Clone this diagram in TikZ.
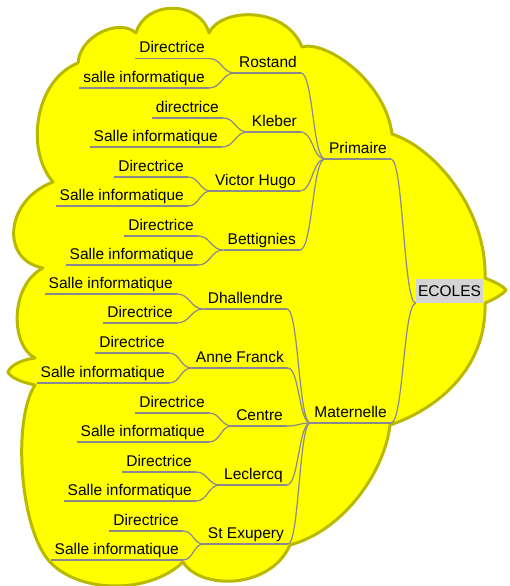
\documentclass[tikz,border=0pt]{standalone}
\usepackage{fontspec}
\setmainfont{Liberation Sans}
\usetikzlibrary{calc}
\definecolor{cloudfill}{RGB}{255,255,0}
\definecolor{cloudborder}{RGB}{185,185,0}
\definecolor{linkgray}{RGB}{136,136,142}
\definecolor{rootgray}{RGB}{212,212,212}
\tikzstyle{underline}=[draw=linkgray,line width=1.2pt]
\tikzstyle{topic}=[anchor=south east,inner xsep=4pt,inner ysep=2pt,text height=11pt,text depth=3.5pt,
                   font=\fontsize{15.5}{18}\selectfont,
                   append after command={(\tikzlastnode.south west) edge[underline] (\tikzlastnode.south east)}]
\tikzstyle{root}=[fill=rootgray,minimum width=67pt,minimum height=24pt,inner sep=0pt,
                  font=\fontsize{15.5}{18}\selectfont]
\tikzstyle{fork}=[draw=linkgray,line width=1.2pt,
                  to path={let \p1=(\tikztostart),\p2=(\tikztotarget) in
                           .. controls ({(\x1+\x2)/2},\y1) and ({(\x1+\x2)/2},\y2) .. (\tikztotarget)}]
\tikzstyle{cloudline}=[fill=cloudfill,draw=cloudborder,line width=3pt,line join=round]

\begin{document}
\begin{tikzpicture}[x=1pt,y=-1pt]
  \useasboundingbox (0,0) rectangle (509,586);
  % cloud
  \draw[cloudline] (78,63) .. controls (80,35) and (120,18) .. (136,33)
    .. controls (145,0) and (200,0) .. (209,33)
    .. controls (220,8) and (285,5) .. (302,47)
    .. controls (325,40) and (385,80) .. (392,134)
    .. controls (435,148) and (487,210) .. (485,278)
    .. controls (495,282) and (503,286) .. (506,290)
    .. controls (503,294) and (495,299) .. (485,303)
    .. controls (487,370) and (435,410) .. (390,425)
    .. controls (385,470) and (345,530) .. (290,545)
    .. controls (270,590) and (200,590) .. (183,562)
    .. controls (150,594) and (80,594) .. (50,562)
    .. controls (20,530) and (12,420) .. (35,385)
    .. controls (20,382) and (10,377) .. (8,372)
    .. controls (10,366) and (20,360) .. (35,358)
    .. controls (10,345) and (10,285) .. (43,268)
    .. controls (0,260) and (5,200) .. (53,182)
    .. controls (25,150) and (35,80) .. (78,63) -- cycle;

  \node[root] (E) at (449.5,291) {ECOLES};
  \node[topic] (P) at (391,159) {Primaire};
  \node[topic] (M) at (391,423) {Maternelle};

  % primaire
  \node[topic] (P1) at (301,73)  {Rostand};
  \node[topic] (P2) at (301,132) {Kleber};
  \node[topic] (P3) at (300,191) {Victor Hugo};
  \node[topic] (P4) at (300,250) {Bettignies};
  \node[topic] (P1a) at (209,58.5) {Directrice};
  \node[topic] (P1b) at (209,88)   {salle informatique};
  \node[topic] (P2a) at (223,118)  {directrice};
  \node[topic] (P2b) at (222,147)  {Salle informatique};
  \node[topic] (P3a) at (188,177)  {Directrice};
  \node[topic] (P3b) at (188,206)  {Salle informatique};
  \node[topic] (P4a) at (198,236)  {Directrice};
  \node[topic] (P4b) at (198,265)  {Salle informatique};

  % maternelle
  \node[topic] (M1) at (287,309) {Dhallendre};
  \node[topic] (M2) at (288,368) {Anne Franck};
  \node[topic] (M3) at (287,426) {Centre};
  \node[topic] (M4) at (287,485) {Leclercq};
  \node[topic] (M5) at (288,544) {St Exupery};
  \node[topic] (M1a) at (177,294) {Salle informatique};
  \node[topic] (M1b) at (177,323) {Directrice};
  \node[topic] (M2a) at (169,353) {Directrice};
  \node[topic] (M2b) at (169,383) {Salle informatique};
  \node[topic] (M3a) at (209,413) {Directrice};
  \node[topic] (M3b) at (209,442) {Salle informatique};
  \node[topic] (M4a) at (196,472) {Directrice};
  \node[topic] (M4b) at (196,501) {Salle informatique};
  \node[topic] (M5a) at (183,531) {Directrice};
  \node[topic] (M5b) at (183,560) {Salle informatique};

  \path (E.south west) edge[fork] (P.south east)
        (E.south west) edge[fork] (M.south east);
  \foreach \k in {1,...,4} {
    \path (P.south west) edge[fork] (P\k.south east)
          (P\k.south west) edge[fork] (P\k a.south east)
          (P\k.south west) edge[fork] (P\k b.south east);
  }
  \foreach \k in {1,...,5} {
    \path (M.south west) edge[fork] (M\k.south east)
          (M\k.south west) edge[fork] (M\k a.south east)
          (M\k.south west) edge[fork] (M\k b.south east);
  }
\end{tikzpicture}
\end{document}
